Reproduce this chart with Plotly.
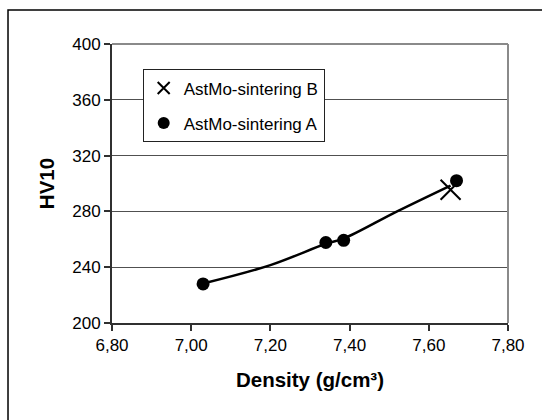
import plotly.graph_objects as go

# Data
density_a = [7.03, 7.34, 7.385, 7.67]
hv10_a = [228, 257.7, 259.3, 302]
density_b = [7.655]
hv10_b = [295.5]
trend_density = [7.03, 7.20, 7.34, 7.385, 7.52, 7.655]
trend_hv10 = [228.3, 241.5, 256.8, 260.5, 280, 298.5]

series_names = ["AstMo-sintering B", "AstMo-sintering A"]
x_ticks = [6.8, 7.0, 7.2, 7.4, 7.6, 7.8]
y_ticks = [200, 240, 280, 320, 360, 400]

FONT = "Liberation Sans, Arial, sans-serif"

fig = go.Figure()
fig.add_trace(go.Scatter(
    x=trend_density, y=trend_hv10, mode="lines",
    line=dict(color="black", width=2.5, shape="spline", smoothing=1.0),
    showlegend=False, hoverinfo="skip"))
fig.add_trace(go.Scatter(
    x=density_b, y=hv10_b, mode="markers", name=series_names[0],
    legendgroup="b",
    marker=dict(symbol="x-thin", size=20, line=dict(color="black", width=2), color="black")))
fig.add_trace(go.Scatter(
    x=density_a, y=hv10_a, mode="markers", name=series_names[1],
    legendgroup="a",
    marker=dict(symbol="circle", size=13, color="black")))

fig.update_layout(
    width=542, height=420,
    margin=dict(l=112, r=34, t=44, b=97, pad=0),
    paper_bgcolor="white", plot_bgcolor="white",
    separators=", ",
    font=dict(family=FONT, size=17, color="black"),
    showlegend=True,
    legend=dict(
        x=0.0775, y=0.909, xanchor="left", yanchor="top",
        bgcolor="white", bordercolor="#222", borderwidth=1,
        font=dict(family=FONT, size=17, color="black"),
        itemsizing="constant", tracegroupgap=10, traceorder="grouped",
    ),
    xaxis=dict(
        range=[6.8, 7.8], tickvals=x_ticks, tickformat=".2f",
        showgrid=False, zeroline=False,
        showline=True, linecolor="#303030", linewidth=2,
        ticks="outside", ticklen=6, tickcolor="#303030", tickwidth=1.5,
        tickfont=dict(family=FONT, size=17, color="black"),
        title=dict(text="Density (g/cm³)", standoff=18,
                   font=dict(family=FONT, size=20.5, color="black", weight="bold")),
    ),
    yaxis=dict(
        range=[200, 400], tickvals=y_ticks,
        showgrid=True, gridcolor="#505050", gridwidth=1, zeroline=False,
        showline=True, linecolor="#303030", linewidth=2,
        ticks="outside", ticklen=6, tickcolor="#303030", tickwidth=1.5,
        tickfont=dict(family=FONT, size=17, color="black"),
        title=dict(text="HV10", standoff=12,
                   font=dict(family=FONT, size=20.5, color="black", weight="bold")),
    ),
    shapes=[
        # plot-area top and right border (grey)
        dict(type="line", xref="paper", yref="paper", x0=0, x1=1, y0=1, y1=1,
             line=dict(color="#8a8a8a", width=2), layer="above"),
        dict(type="line", xref="paper", yref="paper", x0=1, x1=1, y0=0, y1=1,
             line=dict(color="#8a8a8a", width=2), layer="above"),
        # outer chart frame (only left and top edges visible)
        dict(type="rect", xref="paper", yref="paper",
             x0=-0.2626, x1=1.6, y0=-0.8, y1=1.122,
             line=dict(color="black", width=1.5), layer="below"),
    ],
)

fig.write_html("out.html")
